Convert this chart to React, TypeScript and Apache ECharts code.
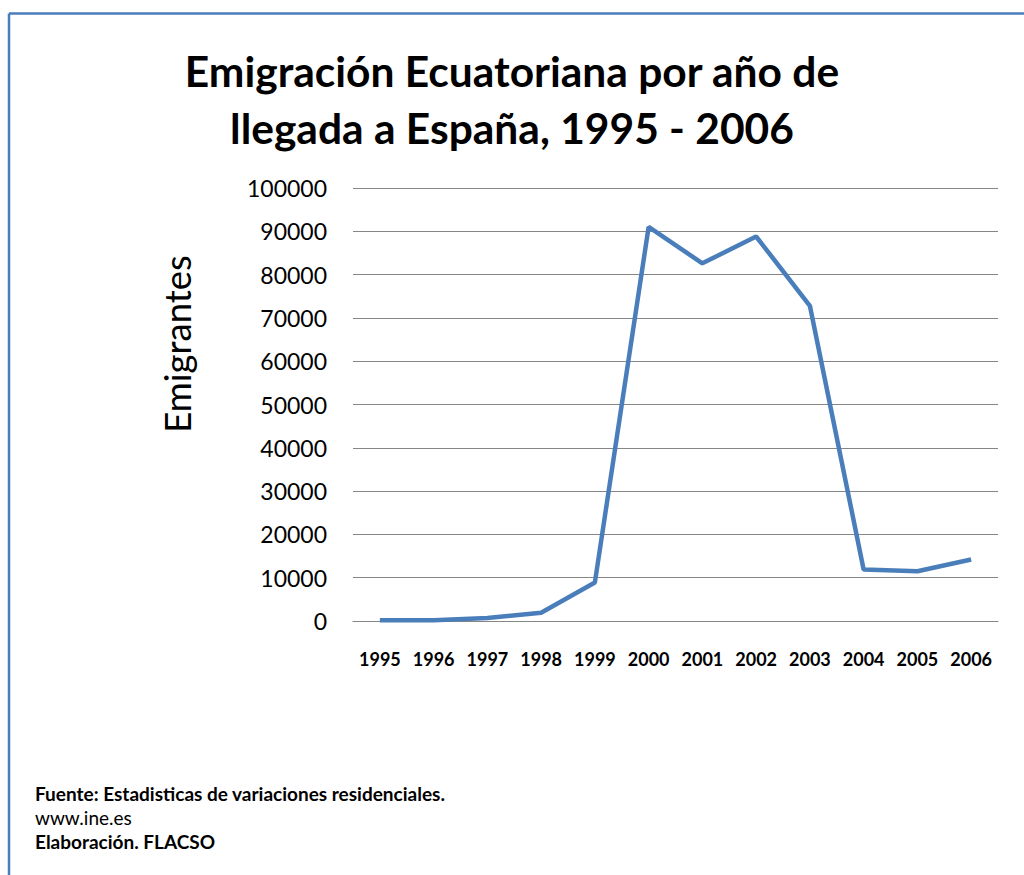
import React, { useEffect, useRef } from "react";
import * as echarts from "echarts";

const years = ["1995", "1996", "1997", "1998", "1999", "2000", "2001", "2002", "2003", "2004", "2005", "2006"];
const emigrants = [200, 200, 700, 1900, 8900, 91000, 82600, 88800, 72800, 11900, 11500, 14200];
const titleLines = ["Emigración Ecuatoriana por año de", "llegada a España, 1995 - 2006"];
const yAxisTitle = "Emigrantes";
const footerLines = ["Fuente: Estadisticas de variaciones residenciales.", "www.ine.es", "Elaboración. FLACSO"];
const footerWeights = ["bold", "normal", "bold"];

const FONT = "Lato, 'Noto Sans', sans-serif";

export default function App() {
  const ref = useRef<HTMLDivElement>(null);
  useEffect(() => {
    if (!ref.current) return;
    const chart = echarts.init(ref.current, undefined, { renderer: "svg" });
    chart.setOption({
      animation: false,
      backgroundColor: "#ffffff",
      textStyle: { fontFamily: FONT },
      grid: { left: 353, right: 26, top: 188, bottom: 254, containLabel: false },
      xAxis: {
        type: "category",
        data: years,
        boundaryGap: true,
        axisLine: { show: true, lineStyle: { color: "#868686", width: 1 } },
        axisTick: { show: false },
        axisLabel: { interval: 0, color: "#000", fontSize: 18, fontWeight: "bold", fontFamily: FONT, margin: 29 },
      },
      yAxis: {
        type: "value",
        min: 0,
        max: 100000,
        interval: 10000,
        axisLine: { show: false },
        axisTick: { show: false },
        axisLabel: { color: "#000", fontSize: 23, fontFamily: FONT, margin: 26, formatter: (v: number) => String(v) },
        splitLine: { show: true, lineStyle: { color: "#868686", width: 1 } },
      },
      series: [
        {
          type: "line",
          data: emigrants,
          symbol: "none",
          lineStyle: { color: "#4a7ebb", width: 4.5 },
        },
      ],
      graphic: [
        { type: "line", shape: { x1: 9, y1: 13.5, x2: 1030, y2: 13.5 }, style: { stroke: "#4a7ebb", lineWidth: 2.5 } },
        { type: "line", shape: { x1: 9, y1: 13.5, x2: 9, y2: 880 }, style: { stroke: "#4a7ebb", lineWidth: 2.5 } },
        {
          type: "text",
          x: 177,
          y: 344,
          rotation: Math.PI / 2,
          style: { text: yAxisTitle, fill: "#000", font: `normal 36.5px ${FONT}`, textAlign: "center", textVerticalAlign: "middle" },
        },
        ...titleLines.map((t, i) => ({
          type: "text",
          x: 512,
          y: 70 + i * 57,
          style: { text: t, fill: "#000", font: `bold 42.5px ${FONT}`, textAlign: "center", textVerticalAlign: "middle" },
        })),
        ...footerLines.map((t, i) => ({
          type: "text",
          x: 35,
          y: 793 + i * 24,
          style: { text: t, fill: "#000", font: `${footerWeights[i]} 19px ${FONT}`, textAlign: "left", textVerticalAlign: "middle" },
        })),
      ],
    });
    return () => chart.dispose();
  }, []);
  return <div ref={ref} style={{ position: "absolute", left: 0, top: 0, width: 1024, height: 875 }} />;
}
